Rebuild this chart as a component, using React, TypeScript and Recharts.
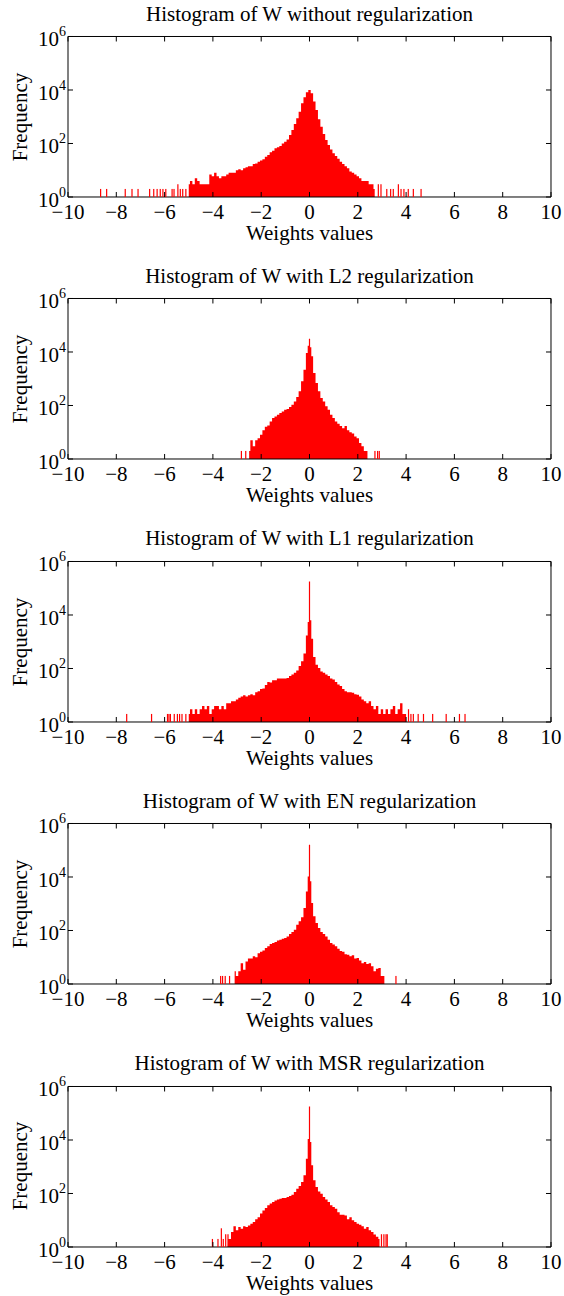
import { ComposedChart, Area, Scatter, XAxis, YAxis } from "recharts";

const FONT = "'Liberation Serif', 'Times New Roman', serif";
const RED = "#ff0000";

const X_TICKS = [-10, -8, -6, -4, -2, 0, 2, 4, 6, 8, 10];
const Y_TICKS = [1, 100, 10000, 1000000];

const TITLES = [
  "Histogram of W without regularization",
  "Histogram of W with L2 regularization",
  "Histogram of W with L1 regularization",
  "Histogram of W with EN regularization",
  "Histogram of W with MSR regularization",
];

// [weight value, frequency] — dense part of each histogram
const NOREG_CORE: [number, number][] = [
  [-5.0, 3], [-4.9, 4], [-4.8, 3], [-4.7, 5], [-4.6, 4], [-4.5, 3], [-4.4, 3], [-4.3, 3], [-4.2, 3],
  [-4.1, 7], [-4.0, 6], [-3.9, 8], [-3.8, 6], [-3.7, 5], [-3.6, 6], [-3.5, 6], [-3.4, 7], [-3.3, 8],
  [-3.2, 8], [-3.1, 8], [-3.0, 10], [-2.9, 11], [-2.8, 10], [-2.7, 12], [-2.6, 13], [-2.5, 14],
  [-2.4, 14], [-2.3, 17], [-2.2, 18], [-2.1, 21], [-2.0, 23], [-1.9, 26], [-1.8, 32], [-1.7, 37],
  [-1.6, 47], [-1.5, 54], [-1.4, 66], [-1.3, 72], [-1.2, 81], [-1.1, 101], [-1.0, 117], [-0.9, 142],
  [-0.8, 208], [-0.7, 318], [-0.6, 535], [-0.5, 870], [-0.4, 1540], [-0.3, 3170], [-0.2, 5320],
  [-0.1, 8200], [0, 10000], [0.1, 7500], [0.2, 3700], [0.3, 1800], [0.4, 800], [0.5, 425],
  [0.6, 225], [0.7, 135], [0.8, 88], [0.9, 60], [1.0, 43], [1.1, 34], [1.2, 27], [1.3, 21],
  [1.4, 17], [1.5, 14], [1.6, 12], [1.7, 9], [1.8, 8], [1.9, 7], [2.0, 6], [2.1, 5], [2.2, 4],
  [2.3, 4], [2.4, 4], [2.5, 3], [2.6, 3], [2.7, 2],
];
// isolated single bins in the tails
const NOREG_SPIKES: [number, number][] = [
  [-8.65, 2], [-8.4, 2], [-7.63, 2], [-7.35, 2], [-7.1, 2], [-6.62, 2], [-6.45, 2], [-6.31, 2],
  [-6.18, 2], [-6.07, 2], [-5.95, 2], [-5.69, 2], [-5.61, 2], [-5.45, 3], [-5.35, 2], [-5.25, 2],
  [-5.12, 2], [2.85, 3], [2.96, 3], [3.2, 2], [3.36, 2], [3.47, 2], [3.68, 3], [3.79, 2],
  [3.91, 2], [4.09, 2], [4.3, 2], [4.62, 2],
];

const L2_CORE: [number, number][] = [
  [-2.5, 2], [-2.4, 5], [-2.3, 3], [-2.2, 5], [-2.1, 6], [-2.0, 8], [-1.9, 12], [-1.8, 16],
  [-1.7, 18], [-1.6, 25], [-1.5, 34], [-1.4, 39], [-1.3, 45], [-1.2, 52], [-1.1, 60], [-1.0, 70],
  [-0.9, 74], [-0.8, 88], [-0.7, 107], [-0.6, 142], [-0.5, 207], [-0.4, 340], [-0.3, 800],
  [-0.2, 2170], [-0.1, 9200], [-0.05, 17000], [0, 31600], [0.05, 15000], [0.1, 6900], [0.2, 1630],
  [0.3, 690], [0.4, 340], [0.5, 190], [0.6, 142], [0.7, 93], [0.8, 70], [0.9, 45], [1.0, 34],
  [1.1, 25], [1.2, 21], [1.3, 17], [1.4, 14], [1.5, 17], [1.6, 12], [1.7, 10], [1.8, 9],
  [1.9, 7], [2.0, 6], [2.1, 4], [2.2, 3], [2.3, 2], [2.4, 2],
];
const L2_SPIKES: [number, number][] = [
  [-2.82, 2], [-2.64, 2], [2.71, 2], [2.82, 2], [2.89, 2],
];

const L1_CORE: [number, number][] = [
  [-5.0, 2], [-4.9, 3], [-4.8, 2], [-4.7, 3], [-4.6, 2], [-4.5, 3], [-4.4, 4], [-4.3, 3],
  [-4.2, 4], [-4.1, 2], [-4.0, 3], [-3.9, 4], [-3.8, 4], [-3.7, 3], [-3.6, 4], [-3.5, 3],
  [-3.4, 5], [-3.3, 5], [-3.2, 6], [-3.1, 6], [-3.0, 7], [-2.9, 8], [-2.8, 9], [-2.7, 10],
  [-2.6, 9], [-2.5, 10], [-2.4, 11], [-2.3, 10], [-2.2, 13], [-2.1, 14], [-2.0, 17], [-1.9, 18],
  [-1.8, 24], [-1.7, 31], [-1.6, 30], [-1.5, 36], [-1.4, 36], [-1.3, 42], [-1.2, 42], [-1.1, 42],
  [-1.0, 42], [-0.9, 44], [-0.8, 52], [-0.7, 59], [-0.6, 70], [-0.5, 85], [-0.4, 124], [-0.3, 185],
  [-0.2, 360], [-0.1, 1730], [-0.05, 5500], [0, 180000], [0.05, 6300], [0.1, 1300], [0.2, 270],
  [0.3, 139], [0.4, 104], [0.5, 78], [0.6, 70], [0.7, 59], [0.8, 52], [0.9, 42], [1.0, 39],
  [1.1, 31], [1.2, 25], [1.3, 22], [1.4, 17], [1.5, 14], [1.6, 13], [1.7, 13], [1.8, 12.5],
  [1.9, 11], [2.0, 10.5], [2.1, 9], [2.2, 7], [2.3, 6], [2.4, 5], [2.5, 6], [2.6, 4], [2.7, 3],
  [2.8, 4], [2.9, 2], [3.0, 3], [3.1, 2], [3.2, 3], [3.3, 2], [3.4, 3], [3.5, 4], [3.6, 2],
  [3.7, 3], [3.8, 5], [3.9, 2], [4.0, 2],
];
const L1_SPIKES: [number, number][] = [
  [-7.57, 2], [-6.54, 2], [-5.88, 2], [-5.82, 2], [-5.76, 2], [-5.6, 2], [-5.47, 2], [-5.38, 2],
  [-5.28, 2], [-5.12, 2], [4.1, 3], [4.2, 2], [4.3, 2], [4.5, 2], [4.72, 2], [5.1, 2],
  [5.66, 2], [6.21, 2], [6.44, 2],
];

const EN_CORE: [number, number][] = [
  [-3.1, 3], [-3.0, 2], [-2.9, 3], [-2.8, 6], [-2.7, 3.4], [-2.6, 7], [-2.5, 9], [-2.4, 9],
  [-2.3, 11], [-2.2, 10], [-2.1, 14], [-2.0, 16], [-1.9, 18], [-1.8, 22], [-1.7, 26], [-1.6, 31],
  [-1.5, 34], [-1.4, 37], [-1.3, 42], [-1.2, 45], [-1.1, 49], [-1.0, 52], [-0.9, 60], [-0.8, 74],
  [-0.7, 88], [-0.6, 107], [-0.5, 165], [-0.4, 220], [-0.3, 310], [-0.2, 690], [-0.1, 2900],
  [-0.05, 10500], [0, 160000], [0.05, 6900], [0.1, 1070], [0.2, 340], [0.3, 190], [0.4, 124],
  [0.5, 88], [0.6, 74], [0.7, 60], [0.8, 45], [0.9, 34], [1.0, 30], [1.1, 26], [1.2, 21],
  [1.3, 17], [1.4, 16], [1.5, 13], [1.6, 12.5], [1.7, 11], [1.8, 12], [1.9, 9], [2.0, 9.4],
  [2.1, 7.5], [2.2, 6], [2.3, 6.6], [2.4, 5.6], [2.5, 6], [2.6, 4.6], [2.7, 3], [2.8, 3.7],
  [2.9, 4], [3.0, 2], [3.1, 2],
];
const EN_SPIKES: [number, number][] = [
  [-3.68, 2], [-3.6, 2], [-3.49, 2], [-3.31, 2], [3.58, 2],
];

const MSR_CORE: [number, number][] = [
  [-3.4, 3], [-3.3, 2], [-3.2, 3.6], [-3.1, 6], [-3.0, 4.2], [-2.9, 5.6], [-2.8, 4.8], [-2.7, 6],
  [-2.6, 5.6], [-2.5, 6.4], [-2.4, 7.4], [-2.3, 8.6], [-2.2, 11], [-2.1, 13], [-2.0, 18],
  [-1.9, 23], [-1.8, 29], [-1.7, 36], [-1.6, 42], [-1.5, 48], [-1.4, 55], [-1.3, 60], [-1.2, 64],
  [-1.1, 68], [-1.0, 68], [-0.9, 74], [-0.8, 81], [-0.7, 90], [-0.6, 114], [-0.5, 150],
  [-0.4, 190], [-0.3, 270], [-0.2, 480], [-0.1, 2000], [-0.05, 11000], [0, 180000],
  [0.05, 8500], [0.1, 1130], [0.2, 310], [0.3, 175], [0.4, 120], [0.5, 98], [0.6, 74],
  [0.7, 60], [0.8, 48], [0.9, 36], [1.0, 31], [1.1, 27], [1.2, 20], [1.3, 16], [1.4, 16],
  [1.5, 15], [1.6, 11], [1.7, 13], [1.8, 10], [1.9, 8.6], [2.0, 7.4], [2.1, 6.8], [2.2, 6],
  [2.3, 4.8], [2.4, 5.6], [2.5, 4.2], [2.6, 3.6], [2.7, 2.9], [2.8, 2.4], [2.9, 2],
];
const MSR_SPIKES: [number, number][] = [
  [-4.02, 2], [-3.79, 2], [-3.65, 5], [-3.57, 2], [-3.47, 3], [2.98, 3], [3.08, 3], [3.17, 3],
  [3.22, 3],
];

const PANELS = [
  { title: TITLES[0], core: NOREG_CORE, spikes: NOREG_SPIKES },
  { title: TITLES[1], core: L2_CORE, spikes: L2_SPIKES },
  { title: TITLES[2], core: L1_CORE, spikes: L1_SPIKES },
  { title: TITLES[3], core: EN_CORE, spikes: EN_SPIKES },
  { title: TITLES[4], core: MSR_CORE, spikes: MSR_SPIKES },
];

const W = 564;
const H = 262.4;
// plot box: x 68..551, y 36.5..197 inside each 262.4px block
const PLOT = { left: 68, right: 551, top: 36.5, bottom: 197 };
const AX = { left: 40, right: 4, top: 4, bottom: 30 };
const M = {
  top: PLOT.top - AX.top,
  right: W - PLOT.right - AX.right,
  bottom: H - PLOT.bottom - AX.bottom,
  left: PLOT.left - AX.left,
};
const PLOT_CX = (PLOT.left + PLOT.right) / 2;
const PLOT_CY = (PLOT.top + PLOT.bottom) / 2;

const fmtX = (v: number) => (v < 0 ? "\u2212" + Math.abs(v) : String(v));
const tickText = { fontFamily: FONT, fill: "#000" };

const BottomTick = ({ x, payload }: any) => (
  <g>
    <line x1={x} y1={PLOT.bottom} x2={x} y2={PLOT.bottom - 5} stroke="#000" />
    <text x={x} y={PLOT.bottom + 22} textAnchor="middle" fontSize={21} style={tickText}>
      {fmtX(payload.value)}
    </text>
  </g>
);
const TopTick = ({ x }: any) => (
  <line x1={x} y1={PLOT.top} x2={x} y2={PLOT.top + 5} stroke="#000" />
);
const LeftTick = ({ y, payload }: any) => (
  <g>
    <line x1={PLOT.left} y1={y} x2={PLOT.left + 5} y2={y} stroke="#000" />
    <text x={PLOT.left - 2} y={y + 10} textAnchor="end" fontSize={21} style={tickText}>
      10<tspan fontSize={14} dy={-10}>{Math.round(Math.log10(payload.value))}</tspan>
    </text>
  </g>
);
const RightTick = ({ y }: any) => (
  <line x1={PLOT.right} y1={y} x2={PLOT.right - 5} y2={y} stroke="#000" />
);

const Spike = (p: any) => {
  if (p.cx == null || p.cy == null || isNaN(p.cy)) return <g />;
  return <rect x={p.cx - 0.6} y={p.cy} width={1.2} height={Math.max(0, PLOT.bottom - p.cy)} fill={RED} />;
};

const label: React.CSSProperties = {
  position: "absolute", fontFamily: FONT, fontSize: 21, lineHeight: 1, whiteSpace: "nowrap",
  color: "#000", transform: "translate(-50%, -50%)",
};

function Panel({ title, core, spikes }: { title: string; core: [number, number][]; spikes: [number, number][] }) {
  const data = core.map(([x, n]) => ({ x, n }));
  const spikeData = spikes.map(([x, n]) => ({ x, n }));
  return (
    <div style={{ position: "relative", width: W, height: H }}>
      <ComposedChart width={W} height={H} data={data} margin={M}>
        <XAxis dataKey="x" type="number" domain={[-10, 10]} ticks={X_TICKS} allowDataOverflow
          height={AX.bottom} tickSize={0} tickMargin={0} interval={0} stroke="#000"
          axisLine={{ stroke: "#000" }} tickLine={false} tick={<BottomTick />} />
        <XAxis xAxisId="t" orientation="top" dataKey="x" type="number" domain={[-10, 10]} ticks={X_TICKS}
          allowDataOverflow height={AX.top} tickSize={0} tickMargin={0} interval={0} stroke="#000"
          axisLine={{ stroke: "#000" }} tickLine={false} tick={<TopTick />} />
        <YAxis scale="log" type="number" domain={[1, 1000000]} ticks={Y_TICKS} allowDataOverflow
          width={AX.left} tickSize={0} tickMargin={0} interval={0} stroke="#000"
          axisLine={{ stroke: "#000" }} tickLine={false} tick={<LeftTick />} />
        <YAxis yAxisId="r" orientation="right" scale="log" type="number" domain={[1, 1000000]}
          ticks={Y_TICKS} allowDataOverflow width={AX.right} tickSize={0} tickMargin={0} interval={0}
          stroke="#000" axisLine={{ stroke: "#000" }} tickLine={false} tick={<RightTick />} />
        <Area type="step" dataKey="n" baseValue={1} stroke="none" fill={RED} fillOpacity={1}
          dot={false} activeDot={false} isAnimationActive={false} />
        <Scatter data={spikeData} dataKey="n" shape={Spike} isAnimationActive={false} />
      </ComposedChart>
      <div style={{ ...label, left: PLOT_CX, top: 13.5 }}>{title}</div>
      <div style={{ ...label, left: PLOT_CX, top: PLOT.bottom + 36 }}>Weights values</div>
      <div style={{ ...label, left: 20, top: PLOT_CY, transform: "translate(-50%, -50%) rotate(-90deg)" }}>
        Frequency
      </div>
    </div>
  );
}

export default function App() {
  return (
    <div style={{ position: "absolute", left: 0, top: 0, width: W, background: "#fff" }}>
      {PANELS.map((p) => (
        <Panel key={p.title} title={p.title} core={p.core} spikes={p.spikes} />
      ))}
    </div>
  );
}
